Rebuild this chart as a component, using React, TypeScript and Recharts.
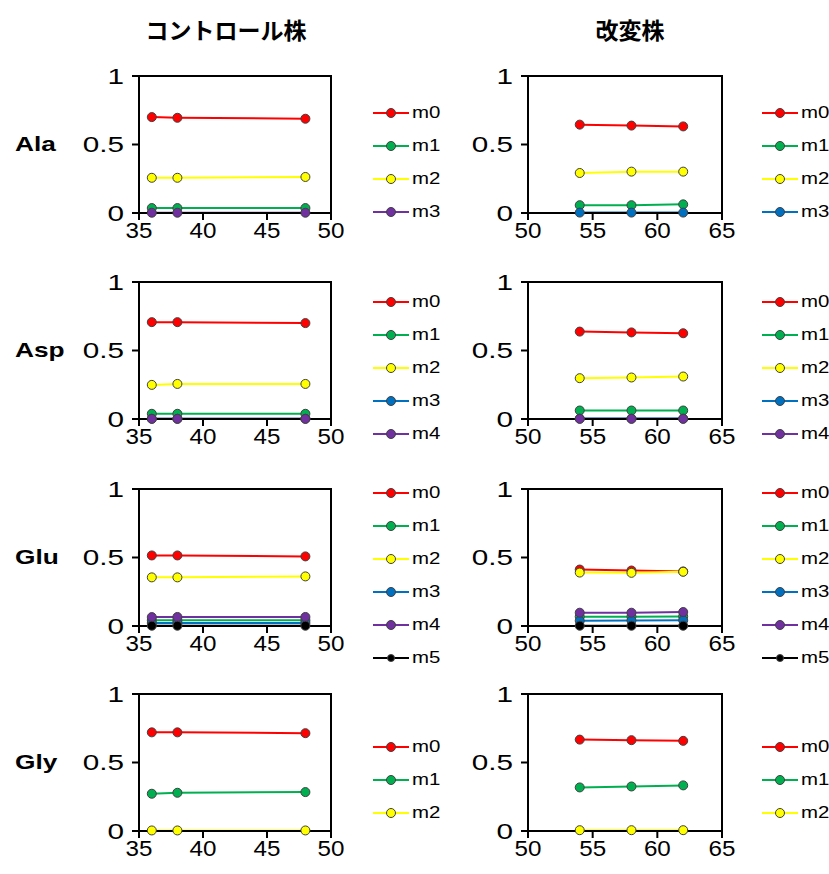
import React from 'react';
import { LineChart, Line, XAxis, YAxis, Legend, ReferenceArea } from 'recharts';

// time points (x) for each strain
const controlTimes = [36, 38, 48];
const modifiedTimes = [54, 58, 62];
const controlXTicks = [35, 40, 45, 50];
const modifiedXTicks = [50, 55, 60, 65];
const yTicks = [0, 0.5, 1];

const isotopes = ['m0', 'm1', 'm2', 'm3', 'm4', 'm5'];
const isotopeColors = ['#FF0000', '#00B050', '#FFFF00', '#0070C0', '#7030A0', '#000000'];
// the Ala control panel draws m3 in purple
const alaControlColors = ['#FF0000', '#00B050', '#FFFF00', '#7030A0'];

const aminoAcids = ['Ala', 'Asp', 'Glu', 'Gly'];
const strainTitles = ['コントロール株', '改変株'];

// fraction of each isotopologue, one array per series (m0, m1, ...)
const alaControl = [
  [0.70, 0.695, 0.688],
  [0.036, 0.036, 0.036],
  [0.257, 0.257, 0.263],
  [0.002, 0.002, 0.002],
];
const alaModified = [
  [0.645, 0.638, 0.632],
  [0.057, 0.057, 0.063],
  [0.292, 0.302, 0.302],
  [0.003, 0.003, 0.003],
];
const aspControl = [
  [0.707, 0.707, 0.70],
  [0.038, 0.038, 0.038],
  [0.249, 0.256, 0.256],
  [0.002, 0.002, 0.002],
  [0.001, 0.001, 0.001],
];
const aspModified = [
  [0.638, 0.632, 0.626],
  [0.062, 0.062, 0.062],
  [0.298, 0.303, 0.31],
  [0.003, 0.003, 0.003],
  [0.001, 0.001, 0.001],
];
const gluControl = [
  [0.515, 0.515, 0.508],
  [0.042, 0.042, 0.042],
  [0.355, 0.355, 0.362],
  [0.022, 0.022, 0.022],
  [0.065, 0.066, 0.066],
  [0.002, 0.002, 0.002],
];
const gluModified = [
  [0.412, 0.405, 0.398],
  [0.068, 0.068, 0.07],
  [0.39, 0.388, 0.396],
  [0.038, 0.04, 0.042],
  [0.097, 0.097, 0.102],
  [0.002, 0.002, 0.002],
];
const glyControl = [
  [0.72, 0.72, 0.714],
  [0.272, 0.279, 0.284],
  [0.004, 0.004, 0.004],
];
const glyModified = [
  [0.667, 0.663, 0.658],
  [0.318, 0.325, 0.333],
  [0.006, 0.006, 0.006],
];

const controlSets = [alaControl, aspControl, gluControl, glyControl];
const modifiedSets = [alaModified, aspModified, gluModified, glyModified];
const controlColorSets = [alaControlColors, isotopeColors, isotopeColors, isotopeColors];

const FONT = '"Liberation Sans", Arial, sans-serif';
const plotTops = [76, 282, 489, 694];

function toRows(times: number[], series: number[][]) {
  return times.map((x, i) => {
    const row: Record<string, number> = { x };
    series.forEach((s, k) => {
      row[isotopes[k]] = s[i];
    });
    return row;
  });
}

function XTick(props: any) {
  const { x, y, payload } = props;
  return (
    <g transform={`translate(${x},${y})`}>
      <text textAnchor="middle" dy="0.72em" fontSize={22} fill="#000" fontFamily={FONT} transform="scale(1.1,1)">
        {payload.value}
      </text>
    </g>
  );
}

function YTick(props: any) {
  const { x, y, payload } = props;
  return (
    <g transform={`translate(${x - 6},${y})`}>
      <text textAnchor="end" dy="0.36em" fontSize={22} fill="#000" fontFamily={FONT} transform="scale(1.35,1)">
        {payload.value}
      </text>
    </g>
  );
}

function LegendBox({ count, colors }: { count: number; colors: string[] }) {
  return (
    <div>
      {isotopes.slice(0, count).map((name, i) => (
        <div key={name} style={{ height: 33, display: 'flex', alignItems: 'center' }}>
          <svg width={36} height={12}>
            <line x1={0} y1={6} x2={36} y2={6} stroke={colors[i]} strokeWidth={2} />
            <circle cx={18} cy={6} r={name === 'm5' ? 3.5 : 4.5} fill={colors[i]} stroke="#404040" strokeWidth={1} />
          </svg>
          <span
            style={{
              fontSize: 17,
              fontFamily: FONT,
              marginLeft: 3,
              display: 'inline-block',
              transform: 'scaleX(1.2)',
              transformOrigin: 'left center',
            }}
          >
            {name}
          </span>
        </div>
      ))}
    </div>
  );
}

interface PanelProps {
  series: number[][];
  colors: string[];
  times: number[];
  xTicks: number[];
  left: number;
  top: number;
  marginLeft: number;
  marginRight: number;
  legendLeft: number;
}

function Panel({ series, colors, times, xTicks, left, top, marginLeft, marginRight, legendLeft }: PanelProps) {
  const data = toRows(times, series);
  const n = series.length;
  const legendTop = 102 - (n - 1) * 16.5 - 16.5;
  const domain: [number, number] = [xTicks[0], xTicks[xTicks.length - 1]];

  return (
    <div style={{ position: 'absolute', left, top }}>
      <LineChart width={414} height={200} data={data} margin={{ top: 16, right: marginRight, left: marginLeft, bottom: 17 }}>
        <XAxis
          dataKey="x"
          type="number"
          domain={domain}
          ticks={xTicks}
          height={30}
          tick={<XTick />}
          tickSize={7}
          axisLine={{ stroke: '#000', strokeWidth: 2 }}
          tickLine={{ stroke: '#000', strokeWidth: 2 }}
        />
        <YAxis
          type="number"
          domain={[0, 1]}
          ticks={yTicks}
          width={70}
          tick={<YTick />}
          tickSize={7}
          axisLine={{ stroke: '#000', strokeWidth: 2 }}
          tickLine={{ stroke: '#000', strokeWidth: 2 }}
        />
        <ReferenceArea x1={domain[0]} x2={domain[1]} y1={0} y2={1} fill="none" stroke="#000" strokeWidth={2} />
        {isotopes.slice(0, n).map((name, i) => (
          <Line
            key={name}
            type="linear"
            dataKey={name}
            stroke={colors[i]}
            strokeWidth={2}
            dot={{ r: 4.5, fill: colors[i], stroke: '#404040', strokeWidth: 1 }}
            isAnimationActive={false}
          />
        ))}
        <Legend
          layout="vertical"
          align="center"
          verticalAlign="middle"
          content={() => <LegendBox count={n} colors={colors} />}
          wrapperStyle={{ left: legendLeft, top: legendTop, width: 80, height: n * 33 }}
        />
      </LineChart>
    </div>
  );
}

export default function App() {
  return (
    <div style={{ position: 'relative', width: 829, height: 874, background: '#fff', overflow: 'hidden' }}>
      <style>{'body{margin:0;}'}</style>
      {strainTitles.map((t, i) => (
        <div
          key={t}
          style={{
            position: 'absolute',
            left: i === 0 ? 126 : 530,
            width: 200,
            top: 13,
            textAlign: 'center',
            fontFamily: '"Noto Sans CJK JP", sans-serif',
            fontWeight: 'bold',
            fontSize: 23,
            lineHeight: '32px',
          }}
        >
          {t}
        </div>
      ))}
      {aminoAcids.map((aa, r) => (
        <React.Fragment key={aa}>
          <div
            style={{
              position: 'absolute',
              left: 15,
              top: plotTops[r] + 68 - 14,
              height: 28,
              lineHeight: '28px',
              fontFamily: FONT,
              fontWeight: 'bold',
              fontSize: 21,
              transform: 'scaleX(1.25)',
              transformOrigin: 'left center',
            }}
          >
            {aa}
          </div>
          <Panel
            series={controlSets[r]}
            colors={controlColorSets[r]}
            times={controlTimes}
            xTicks={controlXTicks}
            left={0}
            top={plotTops[r] - 16}
            marginLeft={69}
            marginRight={83}
            legendLeft={373}
          />
          <Panel
            series={modifiedSets[r]}
            colors={isotopeColors}
            times={modifiedTimes}
            xTicks={modifiedXTicks}
            left={415}
            top={plotTops[r] - 16}
            marginLeft={43}
            marginRight={107}
            legendLeft={347}
          />
        </React.Fragment>
      ))}
    </div>
  );
}
